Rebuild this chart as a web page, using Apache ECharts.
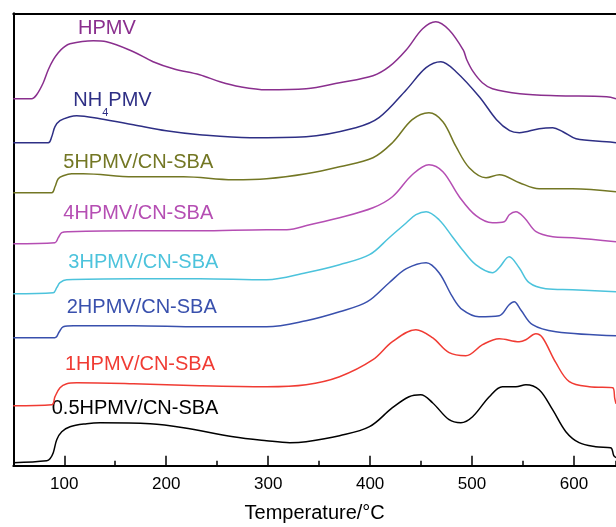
<!DOCTYPE html>
<html>
<head>
<meta charset="UTF-8">
<title>TG curves</title>
<script src="https://cdn.jsdelivr.net/npm/echarts@6/dist/echarts.min.js"></script>
<style>
    html,body{margin:0;padding:0;background:#fff;}
    #chart{width:616px;height:527px;}
</style>
</head>
<body>
<div id="chart"></div>
<script type="text/javascript">
// temperature (°C), signal (arbitrary, stacked offsets)
var hpmv = [[50,367],[67.9,367],[72.9,371],[79.4,383],[84.3,396],[89.3,406],[94.1,413],[99.1,418],[105.6,422],[128.5,425],[141.4,424],[167.8,414],[187.1,404],[207,397],[232.8,391],[252.7,384],[272.6,379],[298.4,376],[337.2,377],[370,383],[402.8,390],[418.7,399],[435.6,416],[451.5,437],[464.4,444],[477.3,436],[491.2,416],[494.8,406],[501.1,394],[510.1,383],[520,377],[546.9,372],[582.6,370],[632,369],[641.2,367]];
var nh4pmv = [[50,323],[84.3,323],[87.7,329],[90.9,339],[95.8,345],[105.6,349],[112.2,350],[135.1,347],[167.8,341],[200,335],[232.8,331],[282.3,328],[337.2,329],[385.9,338],[408.7,348],[435.6,376],[454.9,398],[469.4,404],[484.3,394],[507.1,369],[524,346],[536.9,335],[546.4,333],[565.8,337],[579.2,338],[589.1,334],[602,327],[632,324],[641.2,323]];
var hpmv5 = [[50,273],[87.7,273],[90.9,279],[94.1,287],[99,290],[107.3,292],[118.6,292],[167.8,289],[216.9,289],[265.7,286],[298.4,287],[337.2,292],[370,299],[402.8,308],[421.9,323],[441.3,346],[457.7,353],[471.4,344],[484.3,319],[497.2,298],[513.7,288],[526.8,291],[546.4,283],[565.8,277],[598.6,277],[641.2,274]];
var hpmv4 = [[50,222],[90.9,223],[94.1,228],[97.5,233],[104,234],[167.8,235],[232.8,235],[298.4,236],[318.3,236],[340.8,241],[370,248],[402.8,258],[421.9,269],[441.3,291],[457.7,301],[471.4,294],[487.5,269],[503.9,250],[520,243],[531.6,244],[536.5,251],[543,254],[551.3,248],[562.8,234],[579.2,229],[598.6,228],[641.2,224]];
var hpmv3 = [[50,172],[89.2,173],[92.6,178],[95.8,183],[102.4,186],[167.8,187],[232.8,187],[298.4,186],[337.2,193],[370,201],[399.4,211],[418.7,228],[435.6,243],[445,251],[455,254],[467.6,246],[480.7,229],[490.5,216],[503.6,201],[520,193],[526.6,198],[536.4,209],[546.2,198],[556,183],[572.3,177],[598.6,176],[641.2,174]];
var hpmv2 = [[50,128],[90.9,128],[95.1,134],[99,139],[108.9,140],[167.8,140],[232.8,139],[298.4,139],[337.2,145],[370,154],[397.3,164],[418.7,183],[435.6,197],[455,203],[467.6,193],[480.7,169],[490.5,156],[506.8,149],[526.6,150],[536.4,161],[541.3,164],[547.7,156],[559.3,141],[582.2,134],[641.2,130]];
var hpmv1 = [[50,60],[87.7,61],[90.9,69],[95.8,78],[102.4,82],[112.2,83],[167.8,82],[232.8,80],[298.4,79],[337.2,81],[370,89],[402.8,106],[421.9,124],[444.9,136],[461.2,128],[477.5,113],[493.9,110],[510.3,121],[526.6,127],[546.2,124],[552.8,126],[562.6,132],[569.2,128],[582.2,103],[595.4,84],[615,79],[638,78],[640,67],[641.2,62]];
var hpmv05 = [[50,3],[82.8,5],[86,7],[89.2,13],[92.6,26],[97.5,34],[105.6,39],[122,42],[135.1,43],[184.2,42],[216.9,38],[265.7,29],[298.4,25],[321.3,23],[337.2,24],[370,30],[399.4,39],[421.9,58],[438.2,69],[449.6,71],[461.2,63],[477.5,46],[489,43],[500.5,49],[516.9,69],[529.8,79],[543,79],[552.8,81],[565.8,76],[579,56],[592,34],[605,23],[621.2,19],[636,18],[639,10],[641.2,8]];

var names = ['HPMV','NH4PMV','5HPMV/CN-SBA','4HPMV/CN-SBA','3HPMV/CN-SBA','2HPMV/CN-SBA','1HPMV/CN-SBA','0.5HPMV/CN-SBA'];
var labelTexts = ['HPMV','NH{s|4}PMV','5HPMV/CN-SBA','4HPMV/CN-SBA','3HPMV/CN-SBA','2HPMV/CN-SBA','1HPMV/CN-SBA','0.5HPMV/CN-SBA'];
var labelAt = [[113.5,437],[108.9,365],[99,303],[99,252],[104,203],[102.4,158],[100.7,101],[87.7,57]];
var colors = ['#8a2f8e','#2e2f85','#737724','#b54eb3','#4cc3dc','#3950ad','#f03b33','#000000'];
var curves = [hpmv, nh4pmv, hpmv5, hpmv4, hpmv3, hpmv2, hpmv1, hpmv05];

var xMin = 50, xMax = 641.2;
var font = 'Liberation Sans, Arial, sans-serif';

var chart = echarts.init(document.getElementById('chart'));
var series = [];
for (var i = 0; i < curves.length; i++) {
    series.push({
        name: names[i],
        type: 'line',
        data: curves[i],
        xAxisIndex: 0,
        yAxisIndex: 0,
        smooth: 0.35,
        showSymbol: false,
        silent: true,
        lineStyle: {color: colors[i], width: 1.5},
        clip: true
    });
}

var option = {
    animation: false,
    grid: {left: 13.3, right: 0, top: 13.3, bottom: 61.3, containLabel: false, outerBoundsMode: 'none'},
    xAxis: [
        {
            type: 'value', min: xMin, max: xMax, position: 'bottom',
            name: 'Temperature/°C', nameLocation: 'middle', nameGap: 38,
            nameTextStyle: {fontSize: 20, color: '#000', fontFamily: font},
            axisLine: {lineStyle: {color: '#000', width: 2}},
            axisTick: {inside: true, length: 10, lineStyle: {color: '#000', width: 1.5}},
            axisLabel: {fontSize: 17, color: '#000', margin: 10, fontFamily: font, showMinLabel: false, showMaxLabel: false},
            splitLine: {show: false}
        },
        {
            type: 'value', min: xMin, max: xMax, interval: 50, position: 'bottom',
            axisLine: {show: false},
            axisTick: {inside: true, length: 5, lineStyle: {color: '#000', width: 1.5}},
            axisLabel: {show: false},
            splitLine: {show: false}
        },
        {
            type: 'value', min: xMin, max: xMax, position: 'top',
            axisLine: {lineStyle: {color: '#000', width: 2}},
            axisTick: {show: false},
            axisLabel: {show: false},
            splitLine: {show: false}
        }
    ],
    yAxis: {
        type: 'value', min: 0, max: 452.4,
        axisLine: {show: true, lineStyle: {color: '#000', width: 2}},
        axisTick: {show: false},
        axisLabel: {show: false},
        splitLine: {show: false}
    },
    series: series
};
chart.setOption(option);

// curve labels, anchored in data coordinates
var texts = [];
for (var j = 0; j < labelTexts.length; j++) {
    var p = chart.convertToPixel({xAxisIndex: 0, yAxisIndex: 0}, labelAt[j]);
    texts.push({
        type: 'text',
        x: p[0], y: p[1],
        silent: true,
        style: {
            text: labelTexts[j],
            fill: colors[j],
            font: '20px ' + font,
            verticalAlign: 'middle',
            align: 'left',
            rich: {
                s: {fontSize: 11, fill: colors[j], fontFamily: font, padding: [24, 0, 0, 0]}
            }
        }
    });
}
chart.setOption({graphic: texts});
</script>
</body>
</html>
